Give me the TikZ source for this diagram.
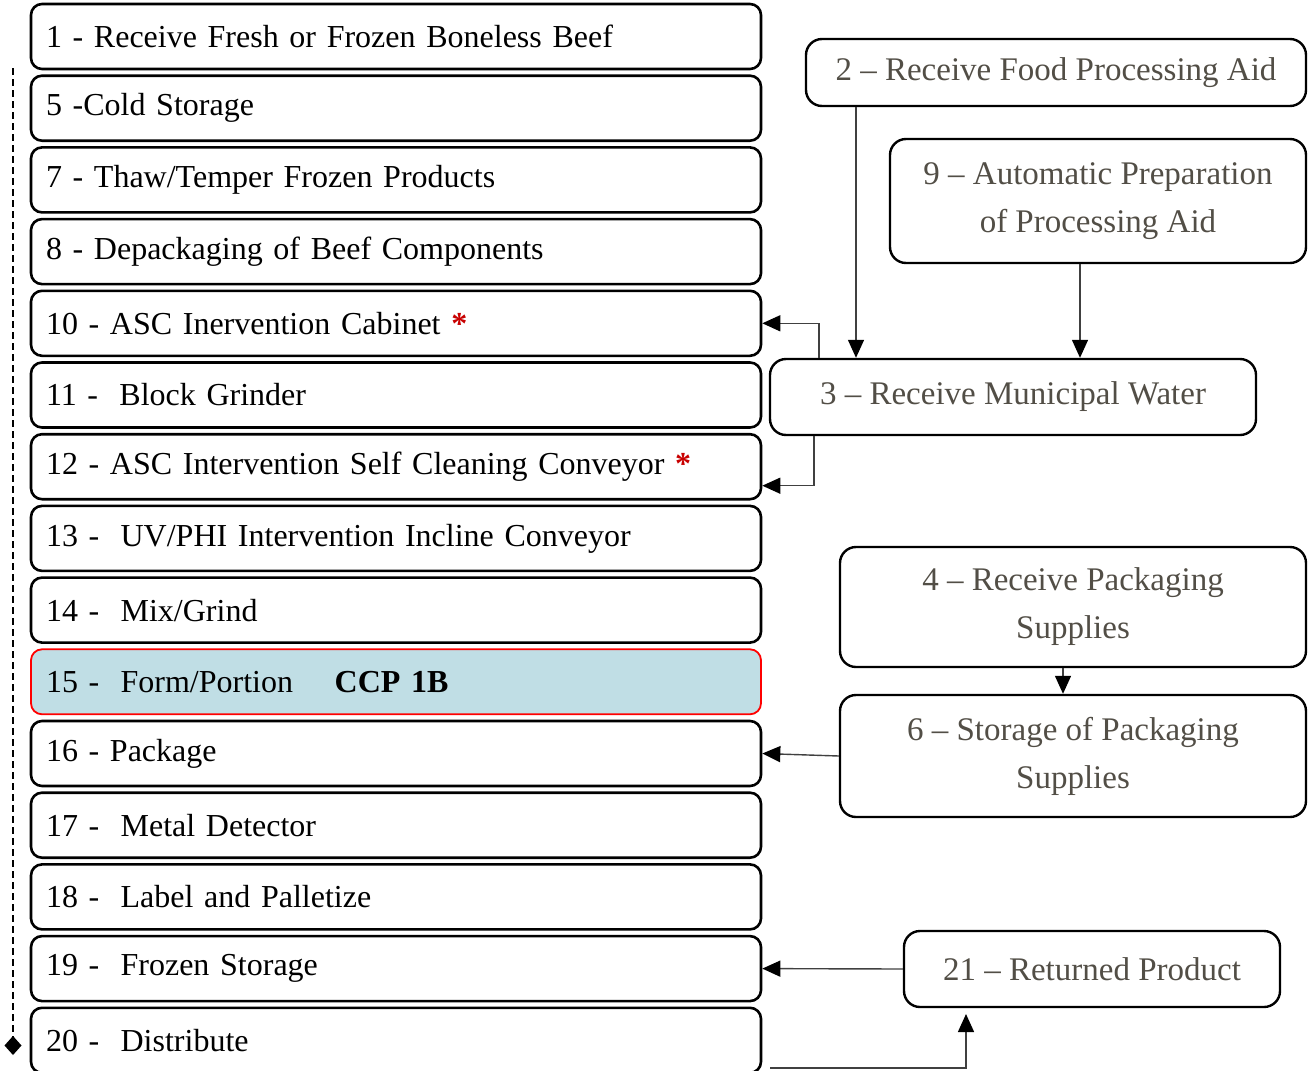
\documentclass[tikz,border=0pt]{standalone}
\usepackage{fontspec}
\setmainfont{Liberation Serif}
\usetikzlibrary{arrows.meta}
\definecolor{boxtext}{RGB}{82,78,70}
\definecolor{ccpfill}{RGB}{192,222,229}
\definecolor{starred}{RGB}{200,0,0}
\definecolor{linegray}{RGB}{64,64,64}
\newcommand{\redstar}{\textcolor{starred}{\textbf{*}}}
\begin{document}
\begin{tikzpicture}[x=1pt,y=-1pt,
  stepbox/.style={draw,line width=2.6pt,rounded corners=11pt,minimum width=730pt,
    minimum height=65pt,text width=700pt,inner xsep=15pt,align=left,
    font=\fontsize{32}{40}\selectfont},
  ccpbox/.style={stepbox,draw=red,line width=1.8pt,fill=ccpfill},
  sidebox/.style={draw,line width=2.4pt,rounded corners=16pt,align=center,
    text=boxtext,font=\fontsize{33}{48}\selectfont},
  arr/.style={draw=linegray,line width=1.4pt,-{Triangle[length=18pt,width=16pt,black]}}]
  \useasboundingbox (0,0) rectangle (1315,1071);
  \pgfmathsetmacro\dy{71.7}
  % process steps on the left
  \foreach \i/\txt in {0/{1 - Receive Fresh or Frozen Boneless Beef},
      1/{5 -Cold Storage},
      2/{7 - Thaw/Temper Frozen Products},
      3/{8 - Depackaging of\ Beef\ Components},
      4/{10 - ASC Inervention Cabinet \redstar},
      5/{11 -\ \ Block Grinder},
      6/{12 - ASC Intervention Self\ Cleaning Conveyor \redstar},
      7/{13 -\ \ UV/PHI Intervention Incline Conveyor},
      8/{14 -\ \ Mix/Grind},
      10/{16 - Package},
      11/{17 -\ \ Metal Detector},
      12/{18 -\ \ Label and Palletize},
      13/{19 -\ \ Frozen Storage},
      14/{20 -\ \ Distribute}}
    \node[stepbox] (r\i) at (396,{36.5+\i*\dy}) {\txt};
  \node[ccpbox] (r9) at (396,{36.5+9*\dy}) {15 -\ \ Form/Portion\hspace{1.3em}\textbf{CCP 1B}};
  % inputs on the right
  \node[sidebox,minimum width=500pt,minimum height=67pt] (s2) at (1056,72.5) {2 -- Receive Food Processing Aid};
  \node[sidebox,minimum width=416pt,minimum height=124pt] (s9) at (1098,201) {9 -- Automatic Preparation\\of Processing Aid};
  \node[sidebox,minimum width=486pt,minimum height=76pt] (s3) at (1013,397) {3 -- Receive Municipal Water};
  \node[sidebox,minimum width=466pt,minimum height=120pt] (s4) at (1073,607) {4 -- Receive Packaging\\Supplies};
  \node[sidebox,minimum width=466pt,minimum height=122pt] (s6) at (1073,756) {6 -- Storage of Packaging\\Supplies};
  \node[sidebox,minimum width=376pt,minimum height=76pt] (s21) at (1092,969) {21 -- Returned Product};
  % connectors
  \draw[arr] (856,0 |- s2.south) -- (856,0 |- s3.north);
  \draw[arr] (1080,0 |- s9.south) -- (1080,0 |- s3.north);
  \draw[arr] (819,0 |- s3.north) |- (r4.east);
  \draw[arr] (814,0 |- s3.south) |- ([yshift=-19pt]r6.east);
  \draw[arr] (1063,0 |- s4.south) -- (1063,0 |- s6.north);
  \draw[arr] (s6.west) -- (r10.east);
  \draw[arr] (s21.west) -- (r13.east);
  \coordinate (dist) at (770,1068);
  \coordinate (ret) at (966,1014);
  \draw[arr] (dist) -| (ret);
  % flow line along the steps
  \coordinate (flowtop) at (13,68);
  \coordinate (flowend) at (13,1055);
  \draw[line width=1.5pt,dash pattern=on 7pt off 4pt,-{Diamond[length=19pt,width=17pt]}] (flowtop) -- (flowend);
\end{tikzpicture}
\end{document}
